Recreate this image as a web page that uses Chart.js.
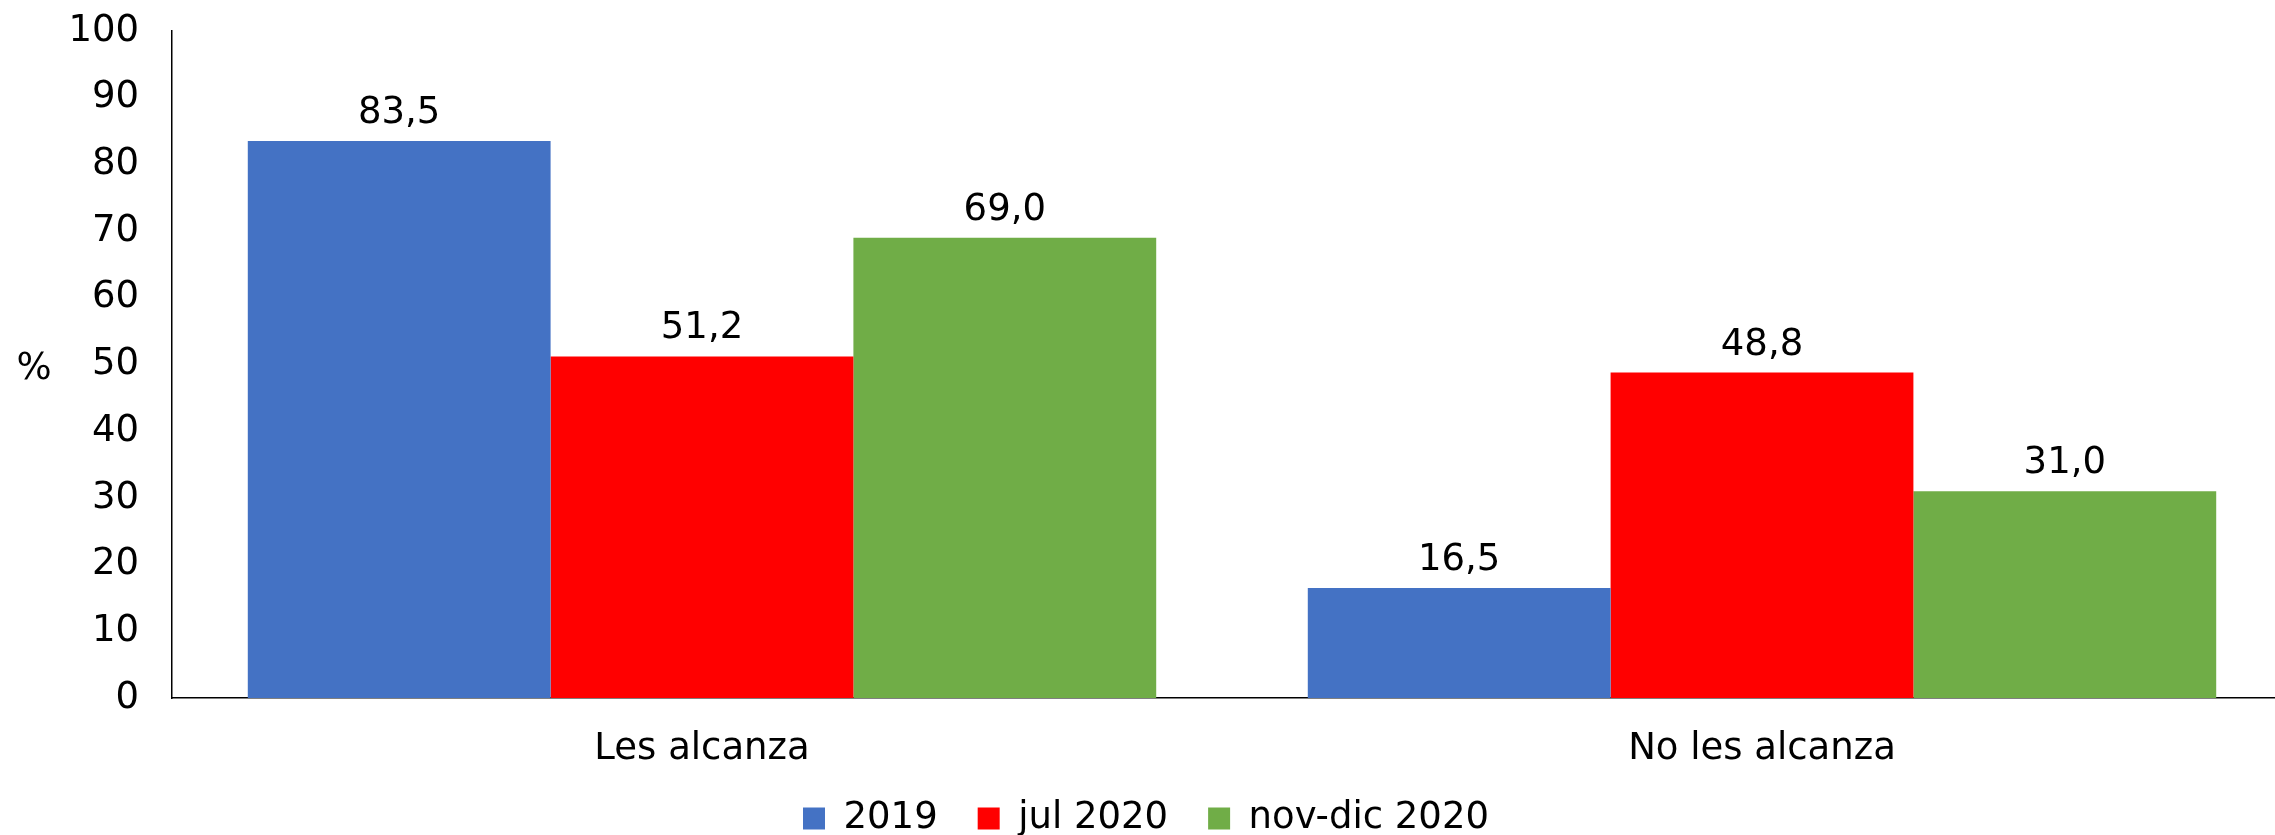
<!DOCTYPE html>
<html>
<head>
<meta charset="utf-8">
<script src="https://cdn.jsdelivr.net/npm/chart.js@4/dist/chart.umd.min.js"></script>
<style>
  html, body { margin:0; padding:0; background:#fff; overflow:hidden; }
  #wrap { position:relative; width:2312px; height:847px; }
</style>
</head>
<body>
<div id="wrap"><canvas id="chart"></canvas></div>
<script>
// ═══ DATA ═══
const categories = ['Les alcanza', 'No les alcanza'];
const seriesNames = ['2019', 'jul 2020', 'nov-dic 2020'];
const values2019 = [83.5, 16.5];
const valuesJul2020 = [51.2, 48.8];
const valuesNovDic2020 = [69.0, 31.0];
const yTicks = [0, 10, 20, 30, 40, 50, 60, 70, 80, 90, 100];

const FONT = '"DejaVu Sans", Verdana, sans-serif';
const fmt = v => v.toFixed(1).replace('.', ',');

// value labels above each bar
const valueLabels = {
    id: 'valueLabels',
    afterDatasetsDraw(chart) {
        const ctx = chart.ctx;
        ctx.save();
        ctx.font = '37px ' + FONT;
        ctx.fillStyle = '#000';
        ctx.textAlign = 'center';
        ctx.textBaseline = 'alphabetic';
        chart.data.datasets.forEach((ds, i) => {
            chart.getDatasetMeta(i).data.forEach((bar, j) => {
                ctx.fillText(fmt(ds.data[j]), bar.x, bar.y - 18);
            });
        });
        ctx.restore();
    }
};

// horizontal "%" axis title
const yTitle = {
    id: 'yTitle',
    afterDraw(chart) {
        const ctx = chart.ctx, a = chart.chartArea;
        ctx.save();
        ctx.font = '37px ' + FONT;
        ctx.fillStyle = '#000';
        ctx.textAlign = 'center';
        ctx.textBaseline = 'middle';
        ctx.fillText('%', 34, (a.top + a.bottom) / 2 + 5);
        ctx.restore();
    }
};

const mk = (label, data, color) => ({ label, data, backgroundColor: color, borderWidth: 0 });

new Chart(document.getElementById('chart'), {
    type: 'bar',
    data: {
        labels: categories,
        datasets: [
            mk(seriesNames[0], values2019, '#4472C4'),
            mk(seriesNames[1], valuesJul2020, '#FF0000'),
            mk(seriesNames[2], valuesNovDic2020, '#70AD47')
        ]
    },
    options: {
        responsive: true,
        maintainAspectRatio: false,
        animation: false,
        datasets: { bar: { categoryPercentage: 0.857, barPercentage: 1 } },
        layout: { padding: { top: 31, left: 0, right: 20, bottom: 0 } },
        scales: {
            x: {
                grid: { display: false, drawTicks: false },
                border: { display: true, color: '#000', width: 1.5 },
                // mirrored + negative padding: labels sit below the axis without reserving/clipping space
                ticks: { color: '#000', font: { family: FONT, size: 37 }, mirror: true, padding: -74 },
                afterFit: s => { s.height = 62; }
            },
            y: {
                min: 0, max: 100,
                afterBuildTicks: s => { s.ticks = yTicks.map(v => ({ value: v })); },
                grid: { display: false, drawTicks: false },
                border: { display: true, color: '#000', width: 1.5 },
                ticks: { color: '#000', font: { family: FONT, size: 37 }, padding: 33 },
                afterFit: s => { s.width = 172; s.paddingTop = 0; s.paddingBottom = 0; }
            }
        },
        plugins: {
            legend: {
                position: 'bottom',
                labels: { color: '#000', font: { family: FONT, size: 37 }, boxWidth: 22, boxHeight: 22, padding: 40 }
            },
            tooltip: { enabled: false }
        }
    },
    plugins: [valueLabels, yTitle]
});
</script>
</body>
</html>
